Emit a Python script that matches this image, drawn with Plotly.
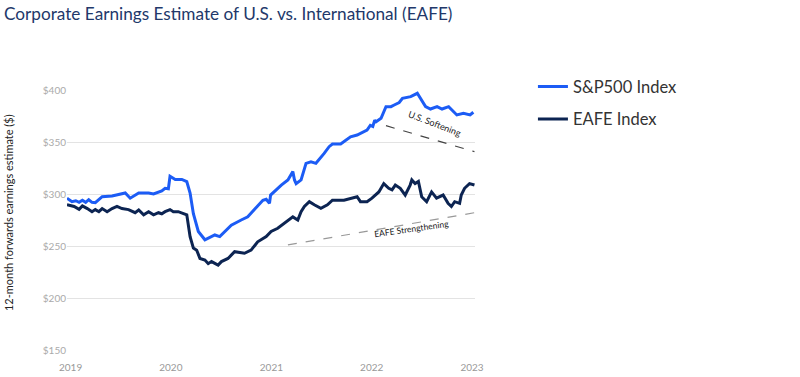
import plotly.graph_objects as go

# ---- data ----
sp_dates = ["2018-12-19","2019-01-06","2019-01-20","2019-02-01","2019-02-13","2019-02-25","2019-03-08","2019-03-20",
            "2019-04-01","2019-04-14","2019-04-26","2019-06-01","2019-07-07","2019-07-19","2019-08-06","2019-09-06",
            "2019-10-12","2019-10-30","2019-11-29","2019-12-11","2019-12-23","2019-12-29","2020-01-17","2020-02-10",
            "2020-02-28","2020-03-11","2020-03-23","2020-03-29","2020-04-10","2020-05-04","2020-05-16","2020-06-09",
            "2020-06-27","2020-07-15","2020-08-08","2020-09-13","2020-10-07","2020-10-31","2020-12-01","2020-12-13",
            "2020-12-25","2020-12-29","2021-02-06","2021-03-02","2021-03-20","2021-03-26","2021-04-01","2021-04-19",
            "2021-05-07","2021-05-25","2021-06-12","2021-07-12","2021-07-30","2021-08-11","2021-09-10","2021-10-16",
            "2021-11-09","2021-12-15","2021-12-27","2022-01-05","2022-01-12","2022-01-17","2022-02-04","2022-02-22",
            "2022-03-12","2022-03-24","2022-04-11","2022-04-23","2022-05-23","2022-06-16","2022-06-28","2022-07-16",
            "2022-08-03","2022-08-27","2022-09-14","2022-10-08","2022-10-20","2022-11-07","2022-12-01","2022-12-25",
            "2023-01-06"]
sp_values = [296,292.6,293.5,292,294,292,294.5,292,
             291.7,295,297.4,298,300,301,296,301,
             301,300,303,305.5,305,317,314,314,
             312,301,281,275,264,256,257.5,260.6,
             259,264,270,275,278,285,294,295,
             291,299,308.6,313.5,321.5,313.5,310,313.5,
             329.5,331,329.5,339,345.5,348,348,355,
             356.7,361.5,366,365,371,369.5,372.8,384,
             384,385.6,388,392,393.6,396.8,392,384,
             381.7,384,381.7,384,380.8,376,377.6,376,
             378.6]

eafe_dates = ["2018-12-19","2019-01-14","2019-02-01","2019-02-13","2019-03-03","2019-03-20","2019-04-01","2019-04-14",
              "2019-04-26","2019-05-14","2019-06-01","2019-06-19","2019-07-07","2019-07-31","2019-08-24","2019-09-06",
              "2019-09-24","2019-10-12","2019-10-30","2019-11-17","2019-11-29","2019-12-11","2019-12-29","2020-01-10",
              "2020-01-28","2020-02-15","2020-02-28","2020-03-11","2020-03-23","2020-04-04","2020-04-16","2020-05-04",
              "2020-05-16","2020-05-28","2020-06-09","2020-06-21","2020-07-03","2020-07-27","2020-08-20","2020-09-07",
              "2020-09-25","2020-10-19","2020-11-12","2020-12-13","2020-12-31","2021-01-24","2021-02-17","2021-03-20",
              "2021-04-07","2021-04-19","2021-05-01","2021-05-19","2021-06-06","2021-06-30","2021-07-24","2021-08-11",
              "2021-09-22","2021-10-16","2021-11-09","2021-11-21","2021-12-15","2022-01-02","2022-01-20","2022-01-27",
              "2022-02-14","2022-03-04","2022-03-16","2022-03-28","2022-04-15","2022-05-03","2022-05-21","2022-05-27",
              "2022-06-08","2022-06-20","2022-07-02","2022-07-20","2022-08-07","2022-08-25","2022-09-18","2022-10-06",
              "2022-10-18","2022-10-30","2022-11-17","2022-11-23","2022-12-05","2022-12-23","2023-01-10"]
eafe_values = [289.6,288,285.3,288.5,286,283,285,283,
               286,283,286,288,286,285,282,284.6,
               280,283,280,282,281,283,285,283,
               283,281.5,280,259,248,246,238,236.5,
               233,235,233,231.7,235,238,244.5,244,
               243,246,254,259,264,267,272,278,
               275,283,288,292.6,289.6,286.3,289.6,294,
               294,296,297.4,292.6,292.6,296,300.6,302,
               310,305.5,304,308.6,305.5,299,308.6,313.5,
               310,312,297.4,292.6,302,296,299,291,
               288,292.6,291,299,305.5,310,308.6]

us_trend_dates = ["2022-02-22", "2023-01-10"]
us_trend_values = [365.7, 340.7]
eafe_trend_dates = ["2021-03-02", "2023-01-10"]
eafe_trend_values = [251, 282]

y_ticks = [150, 200, 250, 300, 350, 400]
y_tick_labels = ["$150", "$200", "$250", "$300", "$350", "$400"]
x_ticks = ["2019-01-01", "2020-01-01", "2021-01-01", "2022-01-01", "2023-01-01"]
x_tick_labels = ["2019", "2020", "2021", "2022", "2023"]

BLUE = "#1c5cf5"
NAVY = "#0c2452"

fig = go.Figure()
fig.add_trace(go.Scatter(x=us_trend_dates, y=us_trend_values, mode="lines",
                         line=dict(color="#444444", width=1.2, dash="dash"),
                         showlegend=False, hoverinfo="skip"))
fig.add_trace(go.Scatter(x=eafe_trend_dates, y=eafe_trend_values, mode="lines",
                         line=dict(color="#999999", width=1.2, dash="dash"),
                         showlegend=False, hoverinfo="skip"))
fig.add_trace(go.Scatter(x=sp_dates, y=sp_values, mode="lines", name="S&P500 Index",
                         line=dict(color=BLUE, width=3), legendgroup="a"))
fig.add_trace(go.Scatter(x=eafe_dates, y=eafe_values, mode="lines", name="EAFE Index",
                         line=dict(color=NAVY, width=3), legendgroup="b"))

fig.add_annotation(x="2022-08-20", y=368, xref="x", yref="y", text="U.S. Softening",
                   textangle=21, showarrow=False, font=dict(size=9, color="#222222", family="Lato"))
fig.add_annotation(x="2022-05-25", y=266, xref="x", yref="y", text="EAFE Strengthening",
                   textangle=-8, showarrow=False, font=dict(size=8.5, color="#222222", family="Lato"))
fig.add_annotation(x=-0.145, y=0.53, xref="paper", yref="paper", xanchor="center", yanchor="middle",
                   text="12-month forwards earnings estimate ($)", textangle=-90, showarrow=False,
                   font=dict(size=11, color="#222222", family="Lato"))

fig.update_layout(
    width=800, height=377,
    margin=dict(l=67, r=325, t=90, b=27, autoexpand=False),
    paper_bgcolor="white", plot_bgcolor="white",
    font=dict(family="Lato", color="#999999"),
    title=dict(text="Corporate Earnings Estimate of U.S. vs. International (EAFE)",
               x=0.005, xanchor="left", y=0.963, yanchor="middle",
               font=dict(family="Lato", size=17.2, color="#22386a")),
    legend=dict(x=1.142, y=1.08, xanchor="left", yanchor="top",
                font=dict(size=16.5, color="#333333", family="Lato"),
                traceorder="grouped", tracegroupgap=8, itemwidth=30,
                bgcolor="rgba(0,0,0,0)"),
    xaxis=dict(type="date", range=["2018-12-19", "2023-01-12"], tickvals=x_ticks,
               ticktext=x_tick_labels, showgrid=False, zeroline=False, showline=False,
               ticks="outside", ticklen=8, tickcolor="rgba(0,0,0,0)",
               tickfont=dict(size=10, color="#999999")),
    yaxis=dict(range=[150, 400], tickvals=y_ticks, ticktext=y_tick_labels,
               showgrid=True, gridcolor="#e3e3e3", gridwidth=1, zeroline=False, showline=False,
               ticks="", tickfont=dict(size=10, color="#aaaaaa")),
)

fig.write_html("out.html", config={"displayModeBar": False},
               post_script="document.body.style.margin='0';")
